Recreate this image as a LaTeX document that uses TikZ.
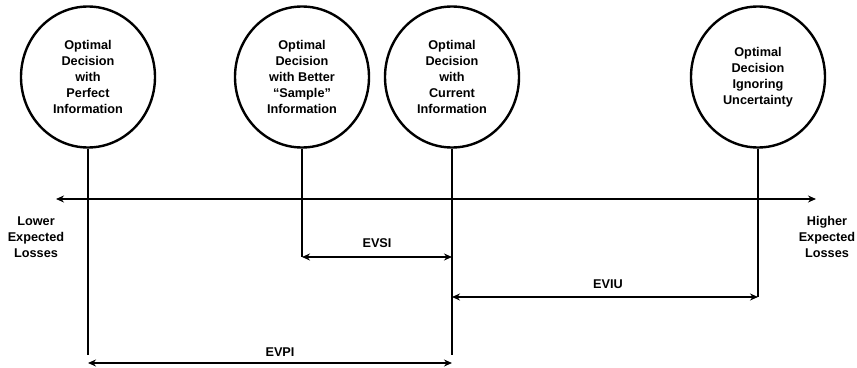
\documentclass[tikz,border=0pt]{standalone}
\usepackage{fontspec}
\setmainfont{Liberation Sans}
\usetikzlibrary{arrows.meta,positioning,shapes.geometric}

\begin{document}
\begin{tikzpicture}[
      x=1pt, y=-1pt,
      decision/.style={
         ellipse,
         draw=black,
         line width=2.4pt,
         inner sep=0pt,
         minimum width=134pt,
         minimum height=141pt,
         align=center,
         font=\bfseries\fontsize{12.7}{16}\selectfont},
      lbl/.style={align=center, font=\bfseries\fontsize{12.7}{16}\selectfont},
      stem/.style={line width=2.6pt},
      myarrow/.style={line width=2.6pt, {Stealth[length=8pt,width=7pt]}-{Stealth[length=8pt,width=7pt]}}
      ]
\useasboundingbox (0,0) rectangle (857,367);

\node[decision] (perfect) at (88,77)  {Optimal\\Decision\\with\\Perfect\\Information};
\node[decision] (sample)  at (302,77) {Optimal\\Decision\\with Better\\“Sample”\\Information};
\node[decision] (current) at (452,77) {Optimal\\Decision\\with\\Current\\Information};
\node[decision] (ignore)  at (758,77) {Optimal\\Decision\\Ignoring\\Uncertainty};

% axis
\coordinate (axL) at (56,199);
\coordinate (axR) at (816,199);
\draw[myarrow] (axL) -- (axR);
\node[lbl] (lower)  at (36,237)  {Lower\\Expected\\Losses};
\node[lbl] (higher) at (827,237) {Higher\\Expected\\Losses};

% stems down from the decisions
\coordinate (perfectEnd) at (88,355);
\coordinate (currentEnd) at (452,355);
\coordinate (sampleEnd)  at (302,257);
\coordinate (ignoreEnd)  at (758,297);
\draw[stem] (perfect.south) -- (perfectEnd);
\draw[stem] (current.south) -- (currentEnd);
\draw[stem] (sample.south) -- (sampleEnd);
\draw[stem] (ignore.south) -- (ignoreEnd);

% value of information
\coordinate (evsiR) at (452,257);
\coordinate (eviuL) at (452,297);
\coordinate (evpiL) at (88,363);
\coordinate (evpiR) at (452,363);
\draw[myarrow] (sampleEnd) -- (evsiR);
\draw[myarrow] (eviuL) -- (ignoreEnd);
\draw[myarrow] (evpiL) -- (evpiR);
\node[lbl] (evsi) at (377,243) {EVSI};
\node[lbl] (eviu) at (608,284) {EVIU};
\node[lbl] (evpi) at (280,352) {EVPI};

\end{tikzpicture}
\end{document}
